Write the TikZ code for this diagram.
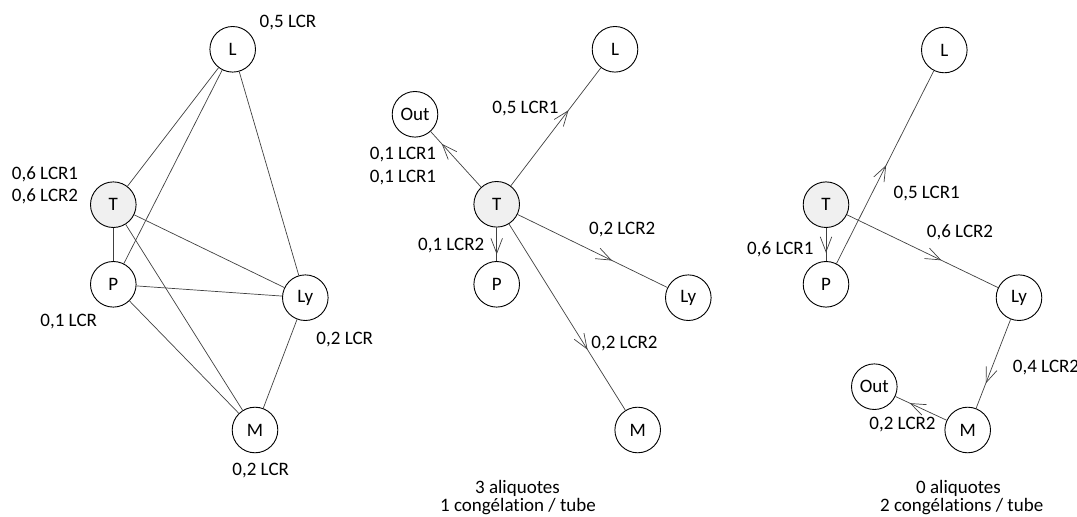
\documentclass[tikz,border=0pt]{standalone}
\usepackage{fontspec}
\setmainfont{Carlito}[Ligatures=NoCommon]
\usetikzlibrary{arrows.meta,decorations.markings}
\tikzset{
  vertex/.style={circle, draw=black, line width=0.9bp, minimum size=45.6bp, inner sep=0pt, fill=white, font=\fontsize{19bp}{22bp}\selectfont},
  startv/.style={vertex, fill=gray!12},
  link/.style={draw=black!75, line width=0.7bp},
  lbl/.style={anchor=base, inner sep=0pt, font=\fontsize{19bp}{22bp}\selectfont},
  flow/.style={link, postaction={decorate}, decoration={markings, mark=at position #1 with {\arrow{Straight Barb[length=15bp,width=11.5bp]}}}},
}
\begin{document}
\begin{tikzpicture}[x=1bp,y=-1bp]
\useasboundingbox (0,0) rectangle (1077,517);
% ---------- panel 1 ----------
\node[vertex] (L1) at (232.7,49.3) {L};
\node[startv] (T1) at (113.3,204.7) {T};
\node[vertex] (P1) at (113.3,284.3) {P};
\node[vertex] (Ly1) at (305.3,297.7) {Ly};
\node[vertex] (M1) at (255,430) {M};
\draw[link] (L1) -- (T1);
\draw[link] (L1) -- (P1);
\draw[link] (L1) -- (Ly1);
\draw[link] (T1) -- (P1);
\draw[link] (T1) -- (Ly1);
\draw[link] (T1) -- (M1);
\draw[link] (P1) -- (Ly1);
\draw[link] (P1) -- (M1);
\draw[link] (Ly1) -- (M1);
\node[lbl] (a1) at (288,27.3) {0,5 LCR};
\node[lbl] (a2) at (45,180) {0,6 LCR1};
\node[lbl] (a3) at (45,201.7) {0,6 LCR2};
\node[lbl] (a4) at (68.7,326.7) {0,1 LCR};
\node[lbl] (a5) at (344.7,345) {0,2 LCR};
\node[lbl] (a6) at (260.7,475) {0,2 LCR};
% ---------- panel 2 ----------
\node[vertex] (L2) at (615,49.3) {L};
\node[vertex] (O2) at (415,114.3) {Out};
\node[startv] (T2) at (496.7,204.3) {T};
\node[vertex] (P2) at (496.7,284.3) {P};
\node[vertex] (Ly2) at (688.3,297.7) {Ly};
\node[vertex] (M2) at (637.7,430) {M};
\draw[flow=0.64] (T2) -- (L2);
\draw[flow=0.78] (T2) -- (O2);
\draw[flow=0.8] (T2) -- (P2);
\draw[flow=0.63] (T2) -- (Ly2);
\draw[flow=0.675] (T2) -- (M2);
\node[lbl] (b1) at (525.5,113.3) {0,5 LCR1};
\node[lbl] (b2) at (403,159.3) {0,1 LCR1};
\node[lbl] (b3) at (403,182.3) {0,1 LCR1};
\node[lbl] (b4) at (451.2,251) {0,1 LCR2};
\node[lbl] (b5) at (622.2,234.3) {0,2 LCR2};
\node[lbl] (b6) at (624.5,348.3) {0,2 LCR2};
\node[lbl] (b7) at (517.5,493) {3 aliquotes};
\node[lbl] (b8) at (518,511.5) {1 congélation / tube};
% ---------- panel 3 ----------
\node[vertex] (L3) at (944.3,50) {L};
\node[startv] (T3) at (826,204.7) {T};
\node[vertex] (P3) at (826,284.3) {P};
\node[vertex] (Ly3) at (1019,297.7) {Ly};
\node[vertex] (M3) at (967.7,430) {M};
\node[vertex] (O3) at (874.3,386.7) {Out};
\draw[flow=0.75] (T3) -- (P3);
\draw[flow=0.51] (P3) -- (L3);
\draw[flow=0.625] (T3) -- (Ly3);
\draw[flow=0.72] (Ly3) -- (M3);
\draw[flow=0.72] (M3) -- (O3);
\node[lbl] (c1) at (926.7,199) {0,5 LCR1};
\node[lbl] (c2) at (960,237.3) {0,6 LCR2};
\node[lbl] (c3) at (780.3,254.3) {0,6 LCR1};
\node[lbl, anchor=base west] (c4) at (1012.7,372.3) {0,4 LCR2};
\node[lbl] (c5) at (902.5,429.3) {0,2 LCR2};
\node[lbl] (c6) at (958.5,493) {0 aliquotes};
\node[lbl] (c7) at (961.7,511.5) {2 congélations / tube};
\end{tikzpicture}
\end{document}
